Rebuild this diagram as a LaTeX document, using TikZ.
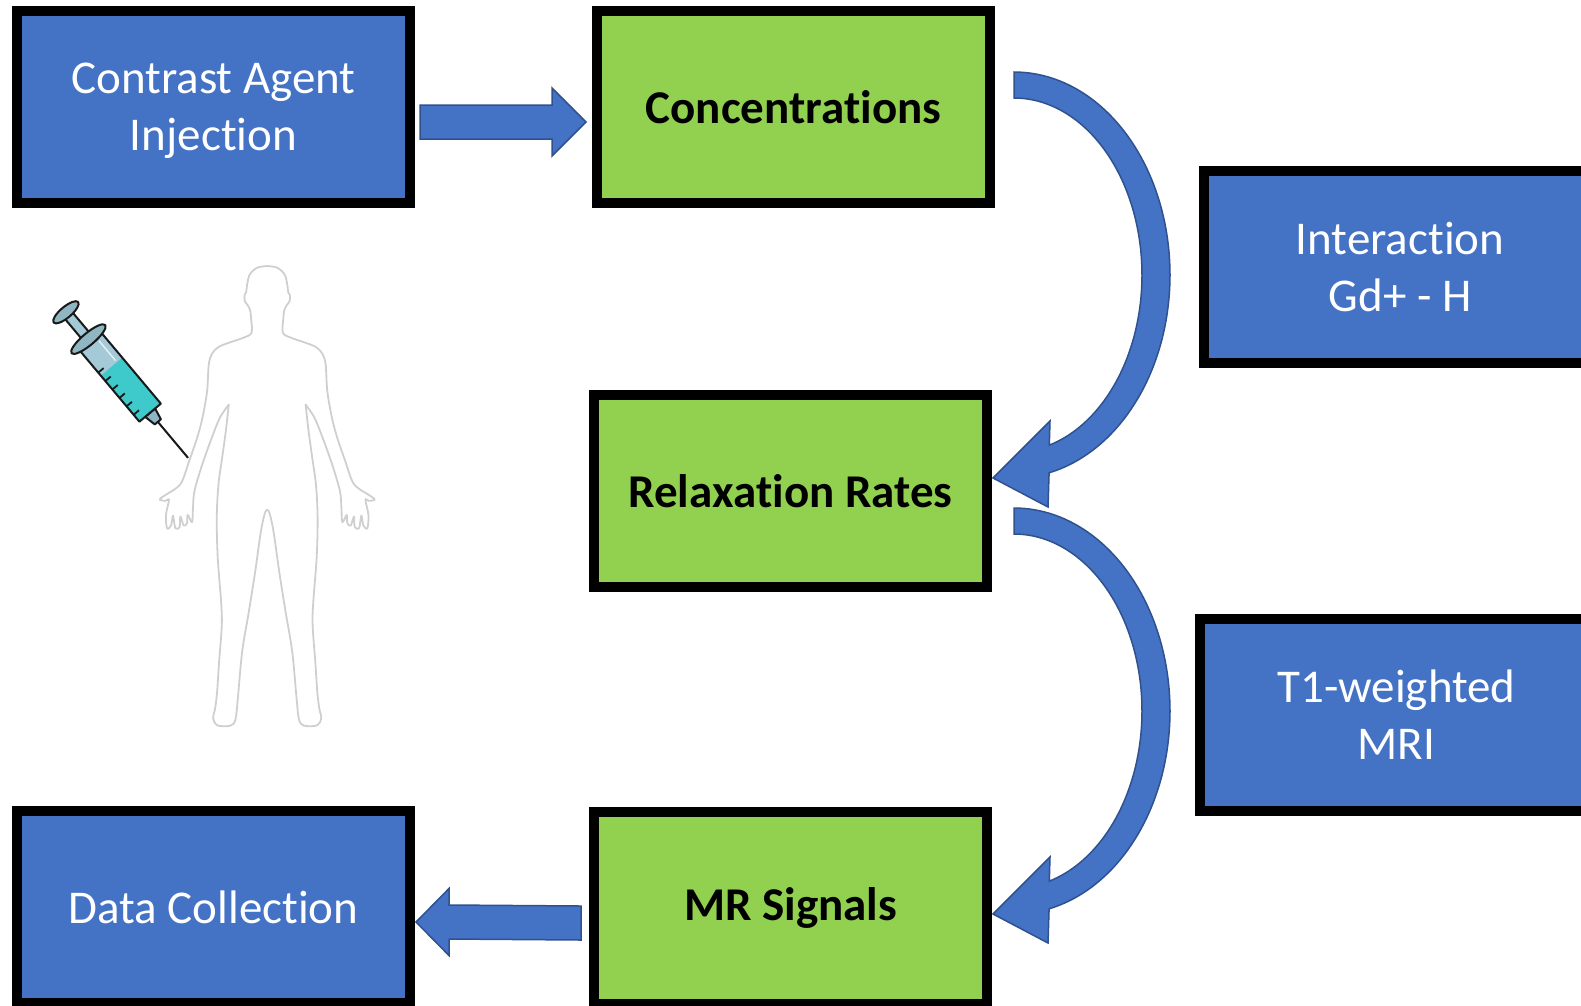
\documentclass[tikz,border=0pt]{standalone}
\usepackage{fontspec}
\setmainfont{Carlito}[Ligatures={NoCommon,NoContextual}]
\usetikzlibrary{calc}
\definecolor{boxblue}{HTML}{4472C4}
\definecolor{boxgreen}{HTML}{92D050}
\definecolor{arrowline}{HTML}{2F528F}
\definecolor{bodygray}{HTML}{CFCFCF}
\definecolor{glass}{HTML}{A3CAD6}
\definecolor{fluid}{HTML}{3EC9CB}
\definecolor{grip}{HTML}{8FB6C2}
% keeps "t" and "i" as separate glyphs
\newcommand\nolig{\kern0pt }

% one half of the body outline, drawn twice (mirrored)
\newcommand\halffigure{%
  \draw[figline] plot[smooth, tension=0.55] coordinates {
    (800,45) (770,50) (748,70) (740,100) (737,124) (732,132) (733,150) (742,163)
    (749,178) (752,205) (753,245) (728,260) (690,273) (655,287) (635,307) (625,340)
    (620,420) (606,500) (590,560) (566,630) (545,690) (525,712) (496,730) (478,744)
    (496,748) (506,745) (497,790) (500,830) (512,822) (518,792) (525,830) (538,826)
    (540,795) (550,822) (560,815) (562,790) (575,812) (578,765) (582,720) (602,650)
    (630,570) (658,500) (685,460)};
  \draw[figline] plot[smooth, tension=0.55] coordinates {
    (685,460) (676,540) (665,620) (654,700) (649,800) (652,920) (662,1050) (664,1120)
    (656,1230) (650,1320) (644,1370) (638,1398) (650,1420) (690,1421) (705,1402)
    (712,1340) (725,1200) (745,1080) (764,960) (781,840) (793,785) (800,775)};
}

\begin{document}
\begin{tikzpicture}[x=1pt,y=-1pt,
  box/.style={draw=black, line width=10pt, minimum width=393pt, minimum height=192pt,
    inner sep=0pt, align=center, font=\fontsize{47}{57}\selectfont},
  bluebox/.style={box, fill=boxblue, text=white},
  greenbox/.style={box, fill=boxgreen, text=black, font=\fontsize{47}{57}\selectfont\bfseries},
  blockarrow/.style={fill=boxblue, draw=arrowline, line width=1.5pt, line join=miter},
  figline/.style={draw=bodygray, line width=1.8pt, line join=round, line cap=round},
  syr/.style={draw=black!90, line width=2pt, line join=round}]

\useasboundingbox (0,0) rectangle (1581,1005);
\clip (0,0) rectangle (1581,1005);

% process boxes
\node[bluebox, text depth=0pt] (inj) at (213.5,107) {Contrast Agent\\Injec\nolig tion};
\node[greenbox] (conc)  at (793.5,107) {Concentra\nolig tions};
\node[bluebox]  (inter) at (1400,267)  {Interac\nolig tion\\Gd+ - H};
\node[greenbox] (relax) at (790.5,491) {Relaxa\nolig tion Rates};
\node[bluebox]  (t1)    at (1396.5,715) {T1-weighted\\MRI};
\node[bluebox]  (data)  at (213.5,907) {Data Collec\nolig tion};
\node[greenbox] (mr)    at (790.5,908) {MR Signals};

% straight block arrow: injection -> concentrations
\coordinate (r1tail) at ($(inj.east)+(5,15)$);
\coordinate (r1tip)  at ($(conc.west)+(-6,15)$);
\draw[blockarrow] ($(r1tail)+(0,-17)$) -- ($(r1tip)+(-34,-17)$) -- ($(r1tip)+(-34,-34)$)
  -- (r1tip) -- ($(r1tip)+(-34,34)$) -- ($(r1tip)+(-34,17)$) -- ($(r1tail)+(0,17)$) -- cycle;

% straight block arrow: MR signals -> data collection
\coordinate (l1tail) at ($(mr.west)+(-8,15)$);
\coordinate (l1tip)  at ($(data.east)+(1,15)$);
\draw[blockarrow] ($(l1tail)+(0,-17)$) -- ($(l1tip)+(33,-17)$) -- ($(l1tip)+(33,-33.5)$)
  -- (l1tip) -- ($(l1tip)+(33,33.5)$) -- ($(l1tip)+(33,17)$) -- ($(l1tail)+(0,17)$) -- cycle;

% curved block arrows on the right: concentrations -> relaxation -> MR signals
\foreach \dy/\nm in {0/ca, 436/cb} {
  \begin{scope}[shift={(0,\dy)}]
    \coordinate (\nm) at (1014,275);
    \draw[blockarrow]
      plot[domain=-90:77, samples=90] ({1014+156*cos(\x)}, {275+203*sin(\x)})
      -- (1048,507) -- (993,478) -- (1050,421)
      -- plot[domain=74:-90, samples=90] ({1014+128*cos(\x)}, {275+177*sin(\x)})
      -- cycle;
  \end{scope}
}

% human outline
\begin{scope}[shift={(0,251)}, scale=0.334]
  \halffigure
  \begin{scope}[shift={(1600,0)}, xscale=-1]
    \halffigure
  \end{scope}
\end{scope}

% syringe
\begin{scope}[shift={(64,310)}, rotate=-50]
  \draw[black!90, line width=2pt] (146,0) -- (193,0);
  \draw[syr, fill=grip] (134,-6.5) -- (146,-4) -- (146,4) -- (134,6.5) -- cycle;
  \draw[syr, fill=glass] (5,-5) rectangle (38,5);
  \fill[glass] (42,-14) rectangle (134,14);
  \fill[fluid] (74,-14) rectangle (134,14);
  \draw[white!70!glass, line width=1.5pt] (46,-7) -- (72,-7);
  \foreach \t in {70,81,92,103,114,125} \draw[black!90, line width=1.8pt] (\t,14) -- (\t,7);
  \draw[syr] (42,-14) rectangle (134,14);
  \draw[syr, fill=grip] (38,0) ellipse [x radius=6, y radius=22];
  \draw[syr, fill=grip] (3,0) ellipse [x radius=5.5, y radius=16];
\end{scope}

\end{tikzpicture}
\end{document}
